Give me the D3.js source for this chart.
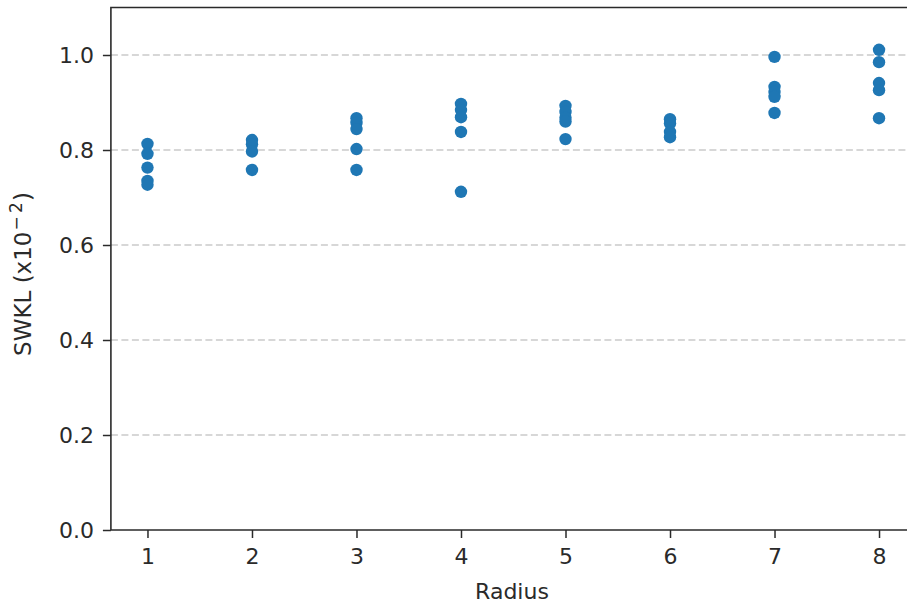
<!DOCTYPE html>
<html>
<head>
<meta charset="utf-8">
<script src="https://cdn.jsdelivr.net/npm/d3@7"></script>
<style>
  html, body { margin: 0; padding: 0; background: #fff; }
  svg { display: block; font-family: "DejaVu Sans", sans-serif; }
</style>
</head>
<body>
<svg id="chart" width="907" height="608"></svg>
<script>
// SWKL measured for several runs at each neighbourhood radius
const radii = [1, 2, 3, 4, 5, 6, 7, 8];
const swkl = [
  [0.813, 0.792, 0.763, 0.735, 0.727],
  [0.821, 0.812, 0.797, 0.758],
  [0.867, 0.857, 0.844, 0.802, 0.758],
  [0.897, 0.884, 0.869, 0.838, 0.712],
  [0.893, 0.880, 0.868, 0.860, 0.823],
  [0.865, 0.856, 0.838, 0.827],
  [0.996, 0.933, 0.922, 0.912, 0.878],
  [1.011, 0.985, 0.941, 0.926, 0.867]
];
const yTicks = [0.0, 0.2, 0.4, 0.6, 0.8, 1.0];
const yGrid = [0.2, 0.4, 0.6, 0.8, 1.0];

const points = [];
radii.forEach((r, i) => swkl[i].forEach(v => points.push({ r, v })));

const svg = d3.select("#chart");
const x = d3.scaleLinear().domain([0.65, 8.35]).range([110.9, 915.6]);
const y = d3.scaleLinear().domain([0, 1.1]).range([530, 7.5]);

const plotL = x(0.65), plotR = x(8.35), plotT = y(1.1), plotB = y(0);
const FS = "22px";
const INK = "#2a2a2a";

// dashed horizontal grid
svg.append("g").selectAll("line").data(yGrid).join("line")
  .attr("x1", plotL).attr("x2", plotR)
  .attr("y1", d => y(d)).attr("y2", d => y(d))
  .attr("stroke", "#b0b0b0").attr("stroke-width", 1.1)
  .attr("stroke-dasharray", "7,3.5");

// scatter points
svg.append("g").selectAll("circle").data(points).join("circle")
  .attr("cx", d => x(d.r)).attr("cy", d => y(d.v))
  .attr("r", 6.2).attr("fill", "#1f77b4");

// axes
const xAxis = d3.axisBottom(x).tickValues(radii).tickFormat(d3.format("d"))
  .tickSize(8).tickPadding(10);
const yAxis = d3.axisLeft(y).tickValues(yTicks).tickFormat(d3.format(".1f"))
  .tickSize(8).tickPadding(9);

const gx = svg.append("g").attr("transform", `translate(0,${plotB})`).call(xAxis);
const gy = svg.append("g").attr("transform", `translate(${plotL},0)`).call(yAxis);
[gx, gy].forEach(g => {
  g.select(".domain").remove();
  g.selectAll(".tick line").attr("stroke", INK).attr("stroke-width", 1.5);
  g.selectAll(".tick text").attr("fill", INK).style("font-size", FS)
    .style("font-family", "DejaVu Sans, sans-serif");
});

// spines (left, bottom, top)
svg.append("path")
  .attr("d", `M${plotR},${plotT}H${plotL}V${plotB}H${plotR}`)
  .attr("fill", "none").attr("stroke", INK).attr("stroke-width", 1.6);

// axis titles
svg.append("text")
  .attr("x", 512).attr("y", 599)
  .attr("text-anchor", "middle").attr("fill", INK)
  .style("font-size", FS).text("Radius");

const yl = svg.append("text")
  .attr("transform", `translate(31,274) rotate(-90)`)
  .attr("text-anchor", "middle").attr("fill", INK)
  .style("font-size", "23px");
yl.append("tspan").text("SWKL (x10");
yl.append("tspan").attr("dy", -9).attr("dx", 1).style("font-size", "17px").text("\u2212\u20092");
yl.append("tspan").attr("dy", 9).attr("dx", 1).text(")");
</script>
</body>
</html>
